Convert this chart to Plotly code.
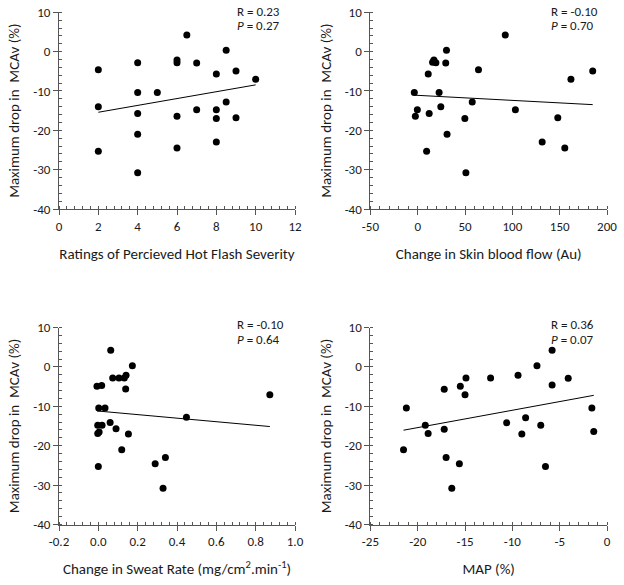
import numpy as np
import plotly.graph_objects as go

# ---- data ----
sev_x = [2, 2, 2, 4, 4, 4, 4, 4, 5, 6, 6, 6, 6, 6.5, 7, 7, 8, 8, 8, 8, 8.5, 8.5, 9, 9, 10]
sev_y = [-4.6, -14.0, -25.3, -2.8, -10.4, -15.7, -21.0, -30.8, -10.4, -2.1, -2.8, -16.4, -24.5,
         4.2, -2.9, -14.8, -5.7, -14.8, -17.0, -23.0, 0.35, -12.8, -4.9, -16.8, -7.0]

sbf_x = [-3.6, -0.4, -2.5, 9.4, 11.1, 12.1, 15.7, 17.1, 19.2, 22.6, 24.4, 29.6, 30.4, 31.0,
         49.8, 50.9, 57.6, 64.2, 92.5, 103.2, 131.5, 148, 155.4, 161.9, 184.9]
sbf_y = [-10.4, -14.8, -16.4, -25.3, -5.7, -15.7, -2.7, -2.1, -2.8, -10.4, -14.0, -2.9, 0.35,
         -21.0, -17.0, -30.8, -12.8, -4.6, 4.2, -14.8, -23.0, -16.8, -24.5, -7.0, -4.9]

sw_x = [0.063, 0.173, 0.141, 0.073, 0.105, 0.132, -0.007, 0.017, 0.139, 0.872, 0.002, 0.034,
        0.448, 0.060, -0.003, 0.019, 0.090, -0.003, 0.004, 0.153, 0.119, 0.341, 0.289, 0.0, 0.329]
sw_y = [4.2, 0.3, -2.1, -2.8, -2.8, -2.8, -4.9, -4.7, -5.6, -7.1, -10.4, -10.4, -12.8, -14.1,
        -14.8, -14.8, -15.7, -16.9, -16.5, -17.0, -21.0, -23.0, -24.6, -25.3, -30.8]

map_x = [-5.8, -7.4, -14.9, -12.3, -9.4, -4.1, -17.2, -15.5, -5.8, -15.0, -21.2, -1.6, -8.6,
         -10.6, -19.2, -7.0, -17.2, -18.9, -9.0, -1.4, -21.5, -17.0, -15.6, -6.5, -16.4]
map_y = [4.2, 0.3, -2.8, -2.8, -2.1, -2.9, -5.7, -4.9, -4.6, -7.1, -10.4, -10.4, -12.9, -14.2,
         -14.8, -14.8, -15.8, -16.9, -17.0, -16.4, -21.0, -23.0, -24.6, -25.3, -30.8]

y_ticks = [10, 0, -10, -20, -30, -40]
y_ticktext = ["10", "0", "-10", "-20", "-30", "-40"]

sev_ticks = [0, 2, 4, 6, 8, 10, 12]
sev_ticktext = ["0", "2", "4", "6", "8", "10", "12"]
sbf_ticks = [-50, 0, 50, 100, 150, 200]
sbf_ticktext = ["-50", "0", "50", "100", "150", "200"]
sw_ticks = [-0.2, 0.0, 0.2, 0.4, 0.6, 0.8, 1.0]
sw_ticktext = ["-0.2", "0.0", "0.2", "0.4", "0.6", "0.8", "1.0"]
map_ticks = [-25, -20, -15, -10, -5, 0]
map_ticktext = ["-25", "-20", "-15", "-10", "-5", "0"]

stats = [("R = 0.23", "<i>P</i> = 0.27"), ("R = -0.10", "<i>P</i> = 0.70"),
         ("R = -0.10", "<i>P</i> = 0.64"), ("R = 0.36", "<i>P</i> = 0.07")]

x_titles = ["Ratings of Percieved Hot Flash Severity",
            "Change in Skin blood flow (Au)",
            "Change in Sweat Rate (mg/cm<sup>2</sup>.min<sup>-1</sup>)",
            "MAP (%)"]
y_title = "Maximum drop in  MCAv (%)"

panels = [
    (sev_x, sev_y, [0, 12], sev_ticks, sev_ticktext, 0.4),
    (sbf_x, sbf_y, [-50, 200], sbf_ticks, sbf_ticktext, 10),
    (sw_x, sw_y, [-0.2, 1.0], sw_ticks, sw_ticktext, 0.04),
    (map_x, map_y, [-25, 0], map_ticks, map_ticktext, 1),
]

W, H = 624, 585


def fx(px):
    return px / W


def fy(py):
    return 1 - py / H


xdoms = [[fx(59), fx(295)], [fx(370.4), fx(607)]]
ydoms = [[fy(209), fy(12.3)], [fy(524.5), fy(327.5)]]

FONT = "Carlito, Calibri, Lato, sans-serif"
TXT = "#1a1a1a"

fig = go.Figure()

for i, (xs, ys, xr, tv, tt, minor) in enumerate(panels):
    row, col = divmod(i, 2)
    n = i + 1
    xa = "x" if n == 1 else f"x{n}"
    ya = "y" if n == 1 else f"y{n}"
    fig.add_trace(go.Scatter(x=xs, y=ys, mode="markers", xaxis=xa, yaxis=ya,
                             marker=dict(color="black", size=7), showlegend=False,
                             hoverinfo="skip"))
    slope, icpt = np.polyfit(xs, ys, 1)
    lx = [min(xs), max(xs)]
    ly = [slope * v + icpt for v in lx]
    fig.add_trace(go.Scatter(x=lx, y=ly, mode="lines", xaxis=xa, yaxis=ya,
                             line=dict(color="black", width=1), showlegend=False,
                             hoverinfo="skip"))
    axis_common = dict(showgrid=False, zeroline=False, showline=True, linecolor="#555",
                       linewidth=1, ticks="outside", ticklen=5, tickcolor="#555",
                       tickfont=dict(family=FONT, size=13, color=TXT), automargin=False)
    xkey = "xaxis" if n == 1 else f"xaxis{n}"
    ykey = "yaxis" if n == 1 else f"yaxis{n}"
    fig.update_layout(**{
        xkey: dict(domain=xdoms[col], anchor=ya, range=xr, tickvals=tv, ticktext=tt,
                   minor=dict(dtick=minor, ticks="inside", ticklen=3, tickcolor="#555",
                              tick0=xr[0]),
                   title=dict(text=x_titles[i], font=dict(family=FONT, size=15, color=TXT),
                              standoff=15),
                   **axis_common),
        ykey: dict(domain=ydoms[row], anchor=xa, range=[-40, 10], tickvals=y_ticks,
                   ticktext=y_ticktext,
                   minor=dict(dtick=2, ticks="inside", ticklen=3, tickcolor="#555", tick0=0),
                   title=dict(text=y_title, font=dict(family=FONT, size=15, color=TXT),
                              standoff=9),
                   **axis_common),
    })
    # stats annotation (paper coords)
    ax_left = [235, 549][col]
    top = [11, 324.3][row]
    fig.add_annotation(x=fx(ax_left), y=fy(top), xref="paper", yref="paper",
                       text=stats[i][0], showarrow=False, xanchor="left", yanchor="middle",
                       font=dict(family=FONT, size=13, color=TXT))
    fig.add_annotation(x=fx(ax_left), y=fy(top + 15), xref="paper", yref="paper",
                       text=stats[i][1], showarrow=False, xanchor="left", yanchor="middle",
                       font=dict(family=FONT, size=13, color=TXT))

fig.update_layout(width=W, height=H, margin=dict(l=0, r=0, t=0, b=0),
                  plot_bgcolor="white", paper_bgcolor="white")

fig.write_html("out.html", config={"displayModeBar": False},
               post_script="document.body.style.margin='0';document.body.style.overflow='hidden';")
